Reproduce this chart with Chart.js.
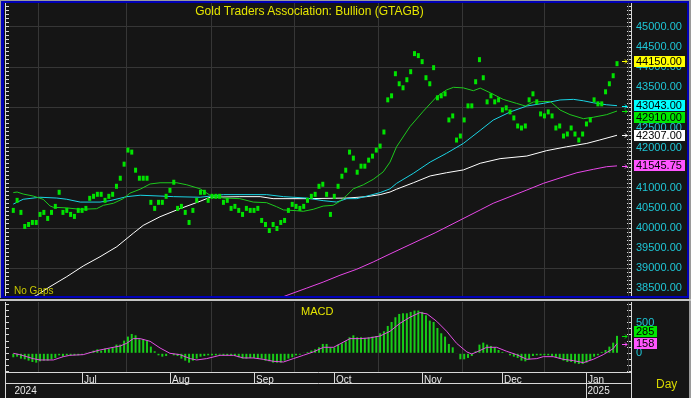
<!DOCTYPE html>
<html>
<head>
<meta charset="utf-8">
<script src="https://cdn.jsdelivr.net/npm/chart.js@4.4.1/dist/chart.umd.min.js"></script>
<style>
  body { margin: 0; background: #151515; }
  #wrap { position: relative; width: 691px; height: 398px; overflow: hidden; background: #151515;
          font-family: "Liberation Sans", Arial, sans-serif; }
  canvas { position: absolute; left: 0; }
  #main { top: 0; }
  #macd { top: 302px; }
  .txt { position: absolute; white-space: nowrap; line-height: 1; }
  .bar { position: absolute; }
</style>
</head>
<body>
<div id="wrap">
  <canvas id="main" width="691" height="298"></canvas>
  <canvas id="macd" width="691" height="96"></canvas>

  <div class="txt" style="left:0;width:619px;text-align:center;top:5px;font-size:12px;color:#e6e600">Gold Traders Association: Bullion (GTAGB)</div>
  <div class="txt" style="left:14px;top:286px;font-size:10px;color:#c8c800">No Gaps</div>
  <div class="txt" style="left:301px;top:306px;font-size:11px;color:#e6e600">MACD</div>
  <div class="txt" style="left:656px;top:378px;font-size:12px;color:#d8d800">Day</div>

  <!-- panel frames -->
  <div class="bar" style="left:0;top:0;width:691px;height:1px;background:#9a9a9a"></div>
  <div class="bar" style="left:0;top:0;width:1px;height:298px;background:#9a9a9a"></div>
  <div class="bar" style="left:1px;top:1px;width:688px;height:2px;background:#0000b8"></div>
  <div class="bar" style="left:1px;top:1px;width:3px;height:297px;background:#0000b8"></div>
  <div class="bar" style="left:1px;top:296px;width:688px;height:2px;background:#0000b8"></div>
  <div class="bar" style="left:687px;top:1px;width:2px;height:297px;background:#0000b8"></div>
  <div class="bar" style="left:689px;top:0;width:2px;height:398px;background:#9a9a9a"></div>
  <div class="bar" style="left:0;top:299px;width:691px;height:2px;background:#c4c4c4"></div>
</div>

<script>
// daily closes (top of each green body)
const closes = [
  40500, 40750, 40450, 40100, 40150, 40200, 40200, 40400, 40450, 40300,
  40450, 40600, 40950, 40450, 40500, 40400, 40350, 40500, 40500, 40550,
  40800, 40850, 40900, 40900, 40750, 40850, 40900, 41100, 41300, 41650,
  42000, 41950, 41500, 41300, 41300, 41300, 40700, 40550, 40700, 40700,
  40850, 41000, 41200, 40550, 40600, 40450, 40200, 40500, 40750, 40950,
  40950, 40750, 40850, 40850, 40850, 40700, 40750, 40550, 40600, 40500,
  40400, 40550, 40500, 40500, 40550, 40250, 40150, 40000, 40150, 40050,
  40200, 40250, 40500, 40650, 40600, 40550, 40600, 40750, 40850, 40900,
  41100, 41150, 40900, 40400, 40850, 41100, 41350, 41500, 41950, 41800,
  41450, 41600, 41600, 41750, 41850, 42000, 42100, 42450, 43250, 43350,
  43900, 43650, 43550, 43750, 43950, 44400, 44350, 44200, 43800, 43650,
  44050, 43300, 43350, 43400, 42750, 42850, 42250, 42350, 42750, 43100,
  43100, 43700, 44250, 43800, 43200, 43350, 43200, 43250, 43000, 43050,
  42950, 42800, 42600, 42550, 42600, 43250, 43400, 43200, 42900, 42850,
  42950, 42850, 42550, 42600, 42350, 42400, 42550, 42400, 42250, 42400,
  42650, 42750, 43250, 43150, 43150, 43450, 43650, 43850, 44150
];

// moving averages, [bar index, value]
const maShort = [[0,40880],[1,40895],[2.6,40845],[5.2,40795],[7.8,40715],[9.6,40550],[10.5,40515],[14,40500],
  [17.5,40465],[21.8,40480],[23.6,40565],[26.2,40615],[28.8,40730],[30.5,40865],[33.2,40965],[35.8,41095],
  [38.4,41125],[42.8,41125],[45.4,41075],[48.9,40975],[51.5,40815],[55,40745],[59.3,40730],[62.8,40645],
  [66.3,40630],[68.9,40530],[70.7,40450],[74.2,40430],[75.9,40415],[78.5,40465],[81.1,40545],[83.7,40565],
  [85.5,40665],[87.3,40815],[89,40975],[91.6,41075],[94.2,41210],[96.8,41395],[98.6,41640],[100.3,42020],
  [103.8,42520],[107.3,42905],[110.8,43265],[113.4,43435],[115.2,43500],[117.8,43485],[120.4,43415],
  [122.2,43480],[124.8,43365],[128.2,43200],[131.7,43100],[134,43035],[136.1,43135],[140.5,43150],
  [143.1,42935],[145.7,42820],[149.2,42720],[151.8,42755],[155.3,42820],[158,42910]];
const maMid = [[0,40595],[2.6,40715],[7,40765],[11.4,40745],[14,40715],[17.5,40645],[22.7,40645],[25.3,40680],
  [29.7,40780],[33.2,40815],[38.4,40795],[41.9,40780],[48.9,40765],[55,40830],[66.3,40830],[70.7,40780],
  [76.8,40745],[81.1,40680],[84.6,40645],[87.3,40730],[89.9,40730],[93.4,40815],[96,40880],[98.6,40975],
  [100.3,41110],[104.7,41360],[109.1,41640],[113.4,41860],[117.8,42105],[122.2,42430],[125.6,42685],
  [130,42885],[134.4,43035],[138.7,43100],[143.1,43185],[146.6,43200],[149.2,43165],[151.8,43115],
  [155.3,43065],[158,43043]];
const maLong = [[4.4,38250],[6.1,38325],[9.6,38540],[14,38790],[18.3,39055],[22.7,39285],[27.1,39535],
  [31.4,39870],[34,40065],[38.4,40280],[43.6,40480],[48.9,40665],[51.5,40765],[59.3,40780],[64.6,40780],
  [68,40730],[76.8,40730],[87.3,40745],[92.5,40780],[96,40830],[98.6,40895],[100.3,40965],[104.7,41125],
  [109.1,41295],[113.4,41375],[117.8,41445],[122.2,41610],[127.4,41725],[134.4,41790],[139.6,41925],
  [144.8,42020],[150.1,42105],[153.5,42190],[158,42307]];
const maSlow = [[69.8,38258],[71.6,38325],[76.8,38505],[81.1,38655],[85.5,38825],[89.9,38975],[94.2,39155],
  [98.6,39355],[110.4,39880],[122.2,40450],[125.6,40615],[130,40780],[134.4,40945],[138.7,41110],
  [143.1,41245],[147.5,41375],[151.8,41460],[155.3,41525],[158,41545.75]];

const macd = [
  -65, -55, -87, -98, -120, -142, -153, -131, -120, -120,
  -98, -76, -33, -55, -33, -33, -33, -33, -22, 5,
  22, 44, 65, 44, 76, 76, 98, 142, 142, 207,
  273, 316, 294, 229, 229, 207, 109, 33, -33, -55,
  -44, -11, -33, -44, -87, -120, -153, -120, -87, -55,
  -44, -33, -33, -33, -22, -33, -33, -33, -44, -65,
  -87, -87, -76, -76, -87, -87, -120, -131, -153, -153,
  -153, -120, -87, -65, -33, -22, 5, 22, 44, 65,
  98, 153, 153, 90, 98, 142, 164, 196, 262, 294,
  262, 262, 251, 262, 273, 283, 327, 360, 447, 512,
  589, 643, 654, 654, 676, 698, 698, 676, 621, 534,
  512, 414, 327, 273, 153, 98, -10, -98, -98, -76,
  -44, 33, 142, 174, 142, 120, 98, 54, 22, 5,
  -33, -55, -76, -120, -131, -98, -44, -33, -33, -33,
  -33, -44, -65, -87, -120, -142, -142, -164, -174, -174,
  -153, -109, -55, -33, 22, 54, 109, 174, 285
];
const signal = [[0,0],[1.7,-22],[5.2,-87],[7,-109],[10.5,-109],[13.1,-55],[14.8,-33],[18.3,-22],[20.1,11],
  [22.7,54],[25.3,87],[28,120],[29.7,164],[31.4,240],[33.2,240],[35.8,196],[38.4,87],[41,0],[43.6,-22],
  [46.3,-87],[48,-109],[50.6,-87],[54.1,-33],[57.6,-33],[60.2,-76],[62.8,-76],[65.4,-98],[68.1,-131],
  [70.7,-142],[73.3,-87],[75.9,-33],[78.5,22],[81.2,98],[83.8,98],[85.5,153],[88.1,240],[90.7,240],
  [93.3,251],[96,283],[98.6,360],[101.2,490],[103.8,589],[106.4,665],[108.3,643],[110.8,523],[113.4,360],
  [116,164],[118.7,22],[120,-11],[121.3,22],[123.9,98],[126.5,98],[129.1,33],[131.7,-22],[134.4,-98],
  [137,-87],[138.7,-55],[141.3,-55],[143.9,-98],[146.6,-120],[149.2,-153],[151.8,-98],[154.4,-22],
  [157,76],[158,158]];

const monthStarts = [18, 41, 63, 84, 107, 128, 150];
const monthLabels = ["Jul", "Aug", "Sep", "Oct", "Nov", "Dec", "Jan"];
const yearStarts = [0, 150];
const yearLabels = ["2024", "2025"];

// axis ranges
const X_MIN = -2.17, X_MAX = 161.66;
const PRICE_MIN = 38308.5, PRICE_MAX = 45597;
const PRICE_LABEL_MAX = 45000;
const MACD_MIN = -305.6, MACD_MAX = 838.2;

const BODY = 124; // height of a close marker, in price units
const GRID = "#363636";
const AXIS = "#d8d8d8";
const LABEL = "#1ec6d6";
const FONT = '"Liberation Sans", Arial, sans-serif';

Chart.defaults.font.family = FONT;
Chart.defaults.animation = false;

const isMult = (v, m) => Math.abs(v / m - Math.round(v / m)) < 1e-6;
const stepTicks = (min, max, step) => {
  const out = [];
  for (let v = Math.ceil(min / step) * step; v <= max; v += step) out.push({ value: v });
  return out;
};
const pts = (arr) => arr.map(([x, y]) => ({ x, y }));

const xAxis = () => ({
  type: "linear", min: X_MIN, max: X_MAX, offset: false,
  afterBuildTicks: (s) => { s.ticks = monthStarts.map((v) => ({ value: v })); },
  afterFit: (s) => { s.height = 0; s.paddingLeft = 0; s.paddingRight = 0; },
  border: { display: false },
  grid: { color: GRID, drawTicks: false },
  ticks: { display: false, autoSkip: false },
});

const rightAxis = (min, max, labelEvery, labelMax, gridEvery, fmt) => ({
  type: "linear", position: "right", min, max,
  afterBuildTicks: (s) => { s.ticks = stepTicks(min, max, 100); },
  afterFit: (s) => { s.width = 60; s.paddingTop = 0; s.paddingBottom = 0; },
  border: { color: AXIS, width: 1 },
  grid: {
    color: (c) => (gridEvery && c.tick && isMult(c.tick.value, gridEvery) ? GRID : "rgba(0,0,0,0)"),
    tickColor: AXIS, tickLength: -4,
  },
  ticks: {
    autoSkip: false, padding: 9, color: LABEL, font: { size: 11 },
    callback: (v) => (isMult(v, labelEvery) && v <= labelMax ? fmt(v) : ""),
  },
});

const leftAxis = (min, max) => ({
  type: "linear", position: "left", min, max,
  afterBuildTicks: (s) => { s.ticks = stepTicks(min, max, 100); },
  afterFit: (s) => { s.width = 5; s.paddingTop = 0; s.paddingBottom = 0; },
  border: { color: AXIS, width: 1 },
  grid: { drawOnChartArea: false, tickColor: AXIS, tickLength: -4 },
  ticks: { display: false, autoSkip: false },
});

// last-value arrows and coloured tags on the right axis
const drawTags = (chart, tags, fmt) => {
  const { ctx, chartArea: a, scales: { y } } = chart;
  const H = 11;
  const placed = [];
  ctx.save();
  ctx.font = "11px " + FONT;
  ctx.textBaseline = "middle";
  tags.forEach((t) => {
    const py = y.getPixelForValue(t.value);
    let top = Math.round(py - H / 2);
    for (let k = 0; k < 4; k++) {
      const hit = placed.find((p) => top < p.bottom + 1 && top + H + 1 > p.top);
      if (!hit) break;
      const up = hit.top - 1 - H, down = hit.bottom + 1;
      top = Math.abs(up - top) < Math.abs(down - top) ? up : down;
    }
    placed.push({ top, bottom: top + H });

    const ay = Math.round(py) + 0.5, ax = a.right - 9;
    ctx.strokeStyle = t.color;
    ctx.lineWidth = 1;
    ctx.beginPath();
    ctx.moveTo(ax, ay); ctx.lineTo(ax + 5, ay);
    ctx.moveTo(ax + 3, ay - 2); ctx.lineTo(ax + 5, ay); ctx.lineTo(ax + 3, ay + 2);
    ctx.stroke();

    const text = fmt(t.value);
    const w = Math.round(ctx.measureText(text).width) + 5;
    ctx.fillStyle = t.color;
    ctx.fillRect(a.right + 3, top, w, H);
    ctx.fillStyle = "#000";
    ctx.fillText(text, a.right + 5, top + H / 2 + 0.5);
  });
  ctx.restore();
};

const last = (arr) => { const v = arr[arr.length - 1]; return Array.isArray(v) ? v[1] : v; };

new Chart(document.getElementById("main"), {
  type: "line",
  data: {
    datasets: [
      { type: "bar", data: closes.map((c, i) => ({ x: i, y: [c - BODY, c] })),
        backgroundColor: "#00e400", barThickness: 3, borderWidth: 0, inflateAmount: 0, order: 0 },
      { data: pts(maShort), borderColor: "#1ec81e", order: 1 },
      { data: pts(maMid), borderColor: "#1ad4e4", order: 2 },
      { data: pts(maLong), borderColor: "#ffffff", order: 3 },
      { data: pts(maSlow), borderColor: "#e848e8", order: 4 },
    ],
  },
  options: {
    responsive: false, devicePixelRatio: 1,
    layout: { padding: { top: 3, bottom: 2, left: 0, right: 0 } },
    elements: { line: { borderWidth: 1, tension: 0 }, point: { radius: 0 } },
    plugins: { legend: { display: false }, tooltip: { enabled: false } },
    scales: {
      y: rightAxis(PRICE_MIN, PRICE_MAX, 500, PRICE_LABEL_MAX, 1000, (v) => v.toFixed(2)),
      yl: leftAxis(PRICE_MIN, PRICE_MAX),
      x: xAxis(),
    },
  },
  plugins: [{
    id: "priceTags",
    afterDraw: (chart) => drawTags(chart, [
      { value: last(closes), color: "#ffff00" },
      { value: last(maSlow), color: "#ff55ff" },
      { value: last(maLong), color: "#ffffff" },
      { value: last(maMid), color: "#00ffff" },
      { value: last(maShort), color: "#00e800" },
    ], (v) => v.toFixed(2)),
  }],
});

new Chart(document.getElementById("macd"), {
  type: "line",
  data: {
    datasets: [
      { data: pts(signal), borderColor: "#e450e4", borderWidth: 1, pointRadius: 0, order: 0 },
      { type: "bar", data: macd.map((v, i) => ({ x: i, y: v })),
        backgroundColor: "#18cc18", barThickness: 2, borderWidth: 0, inflateAmount: 0, order: 1 },
    ],
  },
  options: {
    responsive: false, devicePixelRatio: 1,
    layout: { padding: { top: 0, bottom: 26, left: 0, right: 0 } },
    plugins: { legend: { display: false }, tooltip: { enabled: false } },
    scales: {
      y: rightAxis(MACD_MIN, MACD_MAX, 500, MACD_MAX, 0, (v) => String(Math.round(v))),
      yl: leftAxis(MACD_MIN, MACD_MAX),
      x: xAxis(),
    },
  },
  plugins: [{
    id: "macdTags",
    afterDraw: (chart) => drawTags(chart, [
      { value: last(signal), color: "#ff55ff" },
      { value: last(macd), color: "#00e800" },
    ], (v) => String(Math.round(v))),
  }, {
    id: "timeRows",
    afterDraw: (chart) => {
      const { ctx, chartArea: a, scales: { x } } = chart;
      const r0 = a.bottom + 0.5, r1 = a.bottom + 11.5, end = chart.height;
      const px = (v) => Math.round(x.getPixelForValue(v)) + 0.5;
      ctx.save();
      ctx.fillStyle = "#e8e8e8";
      ctx.textBaseline = "alphabetic";
      ctx.font = '10px "Liberation Sans Narrow", "Liberation Sans", Arial, sans-serif';
      monthStarts.forEach((m, k) => ctx.fillText(monthLabels[k], px(m) + 1.5, a.bottom + 11));
      ctx.font = "10px " + FONT;
      yearStarts.forEach((m, k) => ctx.fillText(yearLabels[k], px(m) + 1, a.bottom + 21.5));
      ctx.strokeStyle = AXIS;
      ctx.lineWidth = 1;
      ctx.beginPath();
      ctx.moveTo(a.left, r0); ctx.lineTo(a.right + 1, r0);
      ctx.moveTo(a.left, r1); ctx.lineTo(a.right + 1, r1);
      ctx.moveTo(a.left + 0.5, a.bottom); ctx.lineTo(a.left + 0.5, end);
      ctx.moveTo(a.right + 0.5, a.bottom); ctx.lineTo(a.right + 0.5, end);
      monthStarts.forEach((m) => {
        const full = yearStarts.includes(m);
        ctx.moveTo(px(m), a.bottom); ctx.lineTo(px(m), full ? end : r1);
      });
      ctx.stroke();
      ctx.restore();
    },
  }],
});
</script>
</body>
</html>
